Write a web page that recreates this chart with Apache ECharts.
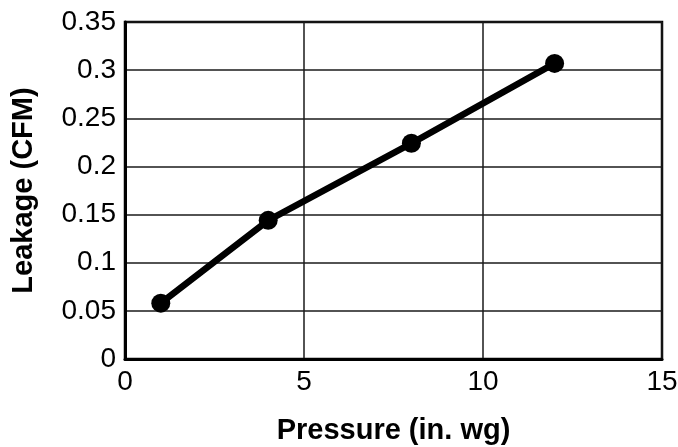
<!DOCTYPE html>
<html>
<head>
<meta charset="utf-8">
<script src="https://cdn.jsdelivr.net/npm/echarts@6/dist/echarts.min.js"></script>
<style>html,body{margin:0;padding:0;background:#fff;}#c{width:678px;height:447px;}</style>
</head>
<body>
<div id="c"></div>
<script>
var pressure = [1, 4, 8, 12];
var leakage = [0.058, 0.144, 0.224, 0.307];
var xTitle = 'Pressure (in. wg)';
var yTitle = 'Leakage (CFM)';

var chart = echarts.init(document.getElementById('c'), null, {renderer: 'canvas'});
var font = 'Liberation Sans, Arial, sans-serif';
chart.setOption({
  animation: false,
  backgroundColor: '#fff',
  grid: {left: 125, right: 16, top: 22, bottom: 88, containLabel: false, outerBoundsMode: 'none',
    show: true, borderColor: '#000', borderWidth: 2.5, backgroundColor: 'transparent'},
  xAxis: {
    type: 'value', min: 0, max: 15, interval: 5,
    name: xTitle, nameLocation: 'middle', nameGap: 57,
    nameTextStyle: {fontFamily: font, fontSize: 29, fontWeight: 'bold', color: '#000'},
    axisLine: {show: true, lineStyle: {color: '#000', width: 3}},
    axisTick: {show: false},
    axisLabel: {margin: 9, fontFamily: font, fontSize: 28, color: '#000'},
    splitLine: {show: true, lineStyle: {color: '#1a1a1a', width: 1.5}}
  },
  yAxis: {
    type: 'value', min: 0, max: 0.35, interval: 0.05,
    name: yTitle, nameLocation: 'middle', nameGap: 87, nameRotate: 90,
    nameTextStyle: {fontFamily: font, fontSize: 29, fontWeight: 'bold', color: '#000'},
    axisLine: {show: true, lineStyle: {color: '#000', width: 3}},
    axisTick: {show: false},
    axisLabel: {margin: 9, fontFamily: font, fontSize: 28, color: '#000',
      formatter: function (v) { return String(+v.toFixed(2)); }},
    splitLine: {show: true, lineStyle: {color: '#1a1a1a', width: 1.5}}
  },
  series: [{
    type: 'line',
    data: pressure.map(function (p, i) { return [p, leakage[i]]; }),
    symbol: 'circle', symbolSize: 19,
    lineStyle: {color: '#000', width: 6.5},
    itemStyle: {color: '#000'}
  }]
});
</script>
</body>
</html>
